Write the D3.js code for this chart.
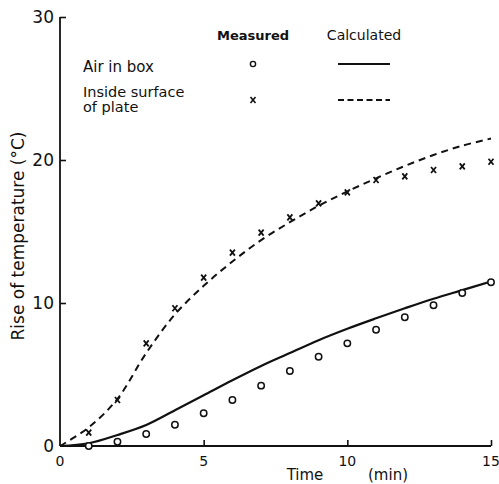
<!DOCTYPE html>
<html>
<head>
<meta charset="utf-8">
<script src="https://cdn.jsdelivr.net/npm/d3@7"></script>
<style>
  html, body { margin: 0; padding: 0; background: #fff; }
  svg { display: block; }
  text { font-family: "DejaVu Sans", "Liberation Sans", sans-serif; fill: #111; }
</style>
</head>
<body>
<svg id="chart" width="499" height="484"></svg>
<script>
// Time in minutes
const times = [0, 1, 2, 3, 4, 5, 6, 7, 8, 9, 10, 11, 12, 13, 14, 15];
const measuredTimes = [1, 2, 3, 4, 5, 6, 7, 8, 9, 10, 11, 12, 13, 14, 15];

// Rise of temperature (°C)
const airMeasured   = [0.0, 0.3, 0.84, 1.49, 2.29, 3.22, 4.22, 5.24, 6.24, 7.18, 8.13, 9.0, 9.84, 10.7, 11.45];
const plateMeasured = [0.93, 3.22, 7.18, 9.63, 11.77, 13.52, 14.92, 15.99, 16.97, 17.74, 18.6, 18.85, 19.3, 19.55, 19.88];
const airCalculated   = [0, 0.19, 0.77, 1.47, 2.5, 3.55, 4.6, 5.6, 6.5, 7.4, 8.2, 8.93, 9.63, 10.3, 10.9, 11.5];
const plateCalculated = [0, 1.3, 3.3, 6.5, 9.2, 11.2, 12.9, 14.4, 15.65, 16.8, 17.8, 18.72, 19.58, 20.35, 21.0, 21.5];

const xTicks = [0, 5, 10, 15];
const yTicks = [0, 10, 20, 30];

const svg = d3.select("#chart");
const x = d3.scaleLinear().domain([0, 15]).range([60, 491]);
const y = d3.scaleLinear().domain([0, 30]).range([446, 17]);

const ink = "#111";

// Axes with inward ticks
const xAxis = svg.append("g").attr("transform", `translate(0,${y(0)})`)
  .call(d3.axisBottom(x).tickValues(xTicks.filter(d => d > 0)).tickSize(-6).tickFormat(""));
const yAxis = svg.append("g").attr("transform", `translate(${x(0)},0)`)
  .call(d3.axisLeft(y).tickValues(yTicks.filter(d => d > 0)).tickSize(-6).tickFormat(""));
[xAxis, yAxis].forEach(g => {
  g.select(".domain").remove();
  g.selectAll(".tick line").attr("stroke", ink).attr("stroke-width", 1.6);
});
svg.append("line").attr("x1", x(0)).attr("x2", x(15)).attr("y1", y(0)).attr("y2", y(0))
  .attr("stroke", ink).attr("stroke-width", 1.8);
svg.append("line").attr("x1", x(0)).attr("x2", x(0)).attr("y1", y(0)).attr("y2", y(30))
  .attr("stroke", ink).attr("stroke-width", 1.8);

// Tick labels
svg.selectAll("text.xt").data(xTicks).join("text").attr("class", "xt")
  .attr("x", d => x(d)).attr("y", y(0) + 20)
  .attr("text-anchor", "middle").attr("font-size", 14).text(d => d);
svg.selectAll("text.yt").data(yTicks).join("text").attr("class", "yt")
  .attr("x", x(0) - 6).attr("y", d => y(d) + 6)
  .attr("text-anchor", "end").attr("font-size", 17).text(d => d);

// Axis titles
svg.append("text").attr("x", 305).attr("y", 480).attr("text-anchor", "middle")
  .attr("font-size", 15).text("Time");
svg.append("text").attr("x", 388).attr("y", 480).attr("text-anchor", "middle")
  .attr("font-size", 15).text("(min)");
svg.append("text").attr("transform", `translate(24,236) rotate(-90)`)
  .attr("text-anchor", "middle").attr("font-size", 17).text("Rise of temperature (°C)");

// Calculated curves
const line = d3.line().x((d, i) => x(times[i])).y(d => y(d)).curve(d3.curveCatmullRom.alpha(0.5));
svg.append("path").attr("d", line(airCalculated)).attr("fill", "none")
  .attr("stroke", ink).attr("stroke-width", 2.2);
svg.append("path").attr("d", line(plateCalculated)).attr("fill", "none")
  .attr("stroke", ink).attr("stroke-width", 2).attr("stroke-dasharray", "7,5");

// Measured markers
const cross = (cx, cy) => `M${cx - 2.5},${cy - 3}L${cx + 2.5},${cy + 3}M${cx + 2.5},${cy - 3}L${cx - 2.5},${cy + 3}`;
svg.selectAll("circle.air").data(airMeasured).join("circle").attr("class", "air")
  .attr("cx", (d, i) => x(measuredTimes[i])).attr("cy", d => y(d)).attr("r", 3.2)
  .attr("fill", "#fff").attr("stroke", ink).attr("stroke-width", 1.5);
svg.selectAll("path.plate").data(plateMeasured).join("path").attr("class", "plate")
  .attr("d", (d, i) => cross(x(measuredTimes[i]), y(d)))
  .attr("stroke", ink).attr("stroke-width", 1.8).attr("fill", "none");

// Legend
svg.append("text").attr("x", 253).attr("y", 40).attr("text-anchor", "middle")
  .attr("font-size", 13).attr("font-weight", "bold").text("Measured");
svg.append("text").attr("x", 364).attr("y", 40).attr("text-anchor", "middle")
  .attr("font-size", 14).text("Calculated");
svg.append("text").attr("x", 83).attr("y", 72).attr("font-size", 15).text("Air in box");
svg.append("text").attr("x", 83).attr("y", 97).attr("font-size", 14.5).text("Inside surface");
svg.append("text").attr("x", 83).attr("y", 112).attr("font-size", 14.5).text("of plate");
svg.append("circle").attr("cx", 253).attr("cy", 64).attr("r", 2.6)
  .attr("fill", "#fff").attr("stroke", ink).attr("stroke-width", 1.4);
svg.append("path").attr("d", cross(253, 100)).attr("stroke", ink).attr("stroke-width", 1.6);
svg.append("line").attr("x1", 338).attr("x2", 390).attr("y1", 64).attr("y2", 64)
  .attr("stroke", ink).attr("stroke-width", 2.2);
svg.append("line").attr("x1", 338).attr("x2", 390).attr("y1", 100).attr("y2", 100)
  .attr("stroke", ink).attr("stroke-width", 2).attr("stroke-dasharray", "6,3.5");
</script>
</body>
</html>
